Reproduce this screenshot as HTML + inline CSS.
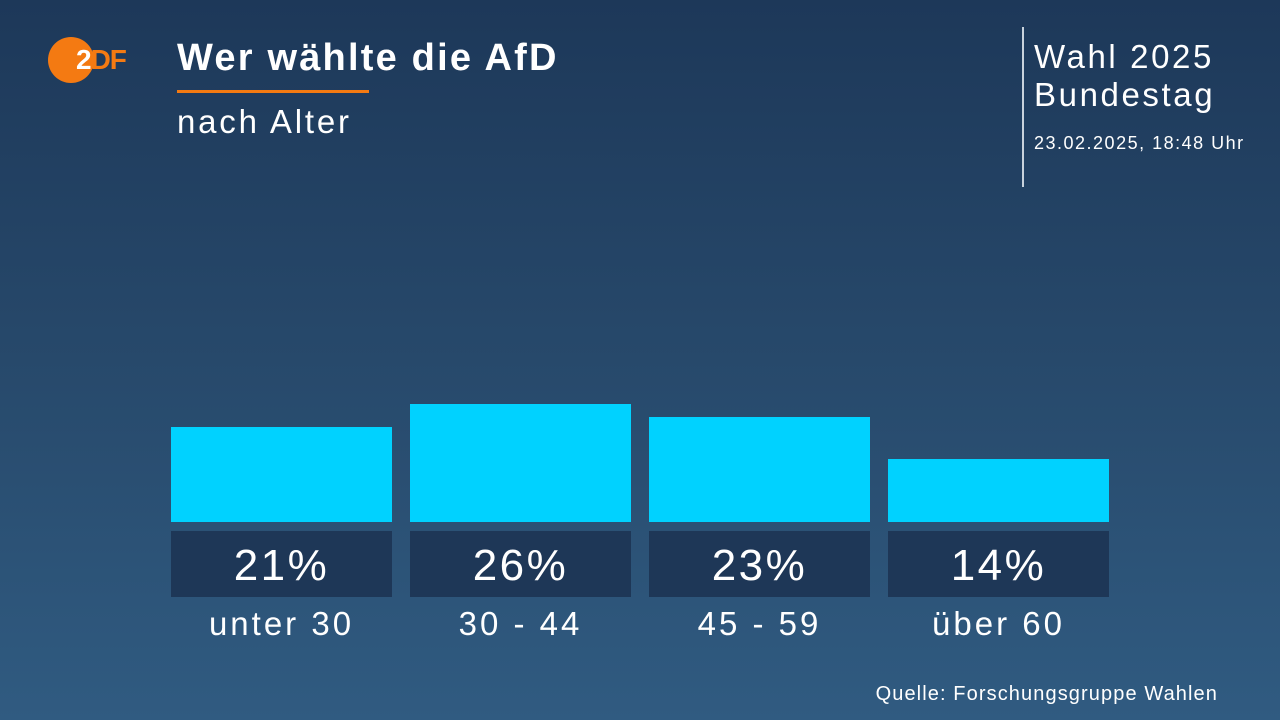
<!DOCTYPE html>
<html><head><meta charset="utf-8"><style>
body{margin:0;width:1280px;height:720px;overflow:hidden;background:linear-gradient(180deg,#1d3859 0%,#27496b 50%,#305b81 100%);font-family:"Liberation Sans",sans-serif;color:#fff;position:relative}
.a{position:absolute;white-space:nowrap}
.bar{position:absolute;background:#00d2ff;width:221px}
.box{position:absolute;top:531px;height:66px;width:221px;background:#1e3757;font-size:44px;text-align:center;line-height:70px;letter-spacing:2.5px}
.lab{position:absolute;top:604px;width:221px;text-align:center;font-size:33px;line-height:40px;letter-spacing:3px}
</style></head><body>
<div class="a" style="left:48px;top:37px;width:46px;height:46px;border-radius:50%;background:#f47a12"></div>
<div class="a" style="left:76px;top:44px;font-size:28px;font-weight:bold;color:#fff;letter-spacing:-1px;line-height:32px"><span style="color:#fff">2</span><span style="color:#f47a12">DF</span></div>
<div class="a" style="left:177px;top:36px;font-size:38px;font-weight:bold;line-height:44px;letter-spacing:2.2px">Wer wählte die AfD</div>
<div class="a" style="left:177px;top:90px;width:192px;height:3px;background:#f47a12"></div>
<div class="a" style="left:177px;top:102px;font-size:33px;line-height:40px;letter-spacing:2.8px">nach Alter</div>
<div class="a" style="left:1022px;top:27px;width:2px;height:160px;background:#c8d2dc"></div>
<div class="a" style="left:1034px;top:38px;font-size:33px;line-height:38px;letter-spacing:2.6px">Wahl 2025<br>Bundestag</div>
<div class="a" style="left:1034px;top:132px;font-size:18px;line-height:22px;letter-spacing:1.5px">23.02.2025, 18:48 Uhr</div>
<div class="bar" style="left:171px;top:427px;height:95px"></div>
<div class="bar" style="left:410px;top:404px;height:118px"></div>
<div class="bar" style="left:649px;top:417px;height:105px"></div>
<div class="bar" style="left:888px;top:459px;height:63px"></div>
<div class="box" style="left:171px">21%</div>
<div class="box" style="left:410px">26%</div>
<div class="box" style="left:649px">23%</div>
<div class="box" style="left:888px">14%</div>
<div class="lab" style="left:171px">unter 30</div>
<div class="lab" style="left:410px">30 - 44</div>
<div class="lab" style="left:649px">45 - 59</div>
<div class="lab" style="left:888px">über 60</div>
<div class="a" style="right:62px;top:682px;font-size:20px;line-height:24px;letter-spacing:1.1px">Quelle: Forschungsgruppe Wahlen</div>
</body></html>
